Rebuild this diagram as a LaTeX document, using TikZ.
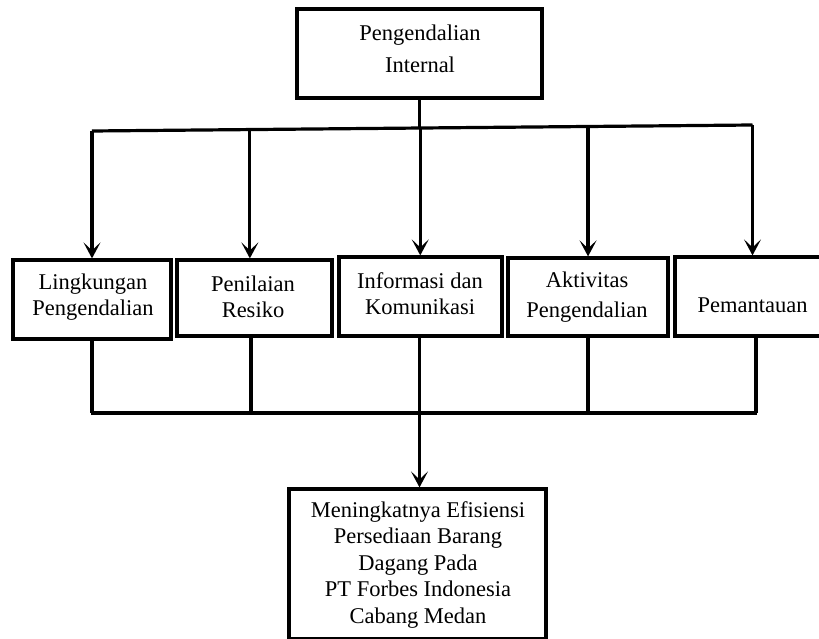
\documentclass[tikz,border=0pt]{standalone}
\usepackage{fontspec}
\setmainfont{Liberation Serif}
\usetikzlibrary{arrows.meta,calc}
\begin{document}
\begin{tikzpicture}[x=1pt,y=-1pt,line width=3.2pt,
  box/.style={draw,line width=3.2pt,inner sep=0pt},
  lbl/.style={align=center,inner sep=0pt,font=\fontsize{22.5}{26}\selectfont},
  arr/.style={-{Stealth[length=16pt,width=17pt,inset=8pt]}}]
\useasboundingbox (0,0) rectangle (819,639);
% boxes
\node[box,minimum width=245pt,minimum height=89pt] (top) at (419.5,53.5) {};
\node[box,minimum width=158pt,minimum height=79pt] (b1) at (92,299.5) {};
\node[box,minimum width=155pt,minimum height=76pt] (b2) at (254.5,298) {};
\node[box,minimum width=163pt,minimum height=79pt] (b3) at (420.5,296.5) {};
\node[box,minimum width=160pt,minimum height=78pt] (b4) at (588,297) {};
\node[box,minimum width=155pt,minimum height=79pt] (b5) at (752.5,296.5) {};
\node[box,minimum width=257pt,minimum height=150pt] (bot) at (417.5,564) {};
% labels
\node[lbl,font=\fontsize{22.5}{32}\selectfont] (ttop) at (420,49) {Pengendalian\\Internal};
\node[lbl] (t1) at (93,297.5) {Lingkungan\\Pengendalian};
\node[lbl] (t2) at (253,297) {Penilaian\\Resiko};
\node[lbl] (t3) at (420,293.5) {Informasi dan\\Komunikasi};
\node[lbl,font=\fontsize{22.5}{30}\selectfont] (t4) at (587,297) {Aktivitas\\Pengendalian};
\node[lbl] (t5) at (752.5,305) {Pemantauan};
\node[lbl,font=\fontsize{22.5}{26.5}\selectfont] (tbot) at (418,565) {Meningkatnya Efisiensi\\Persediaan Barang\\Dagang Pada\\PT Forbes Indonesia\\Cabang Medan};
% upper bus (slightly tilted as in the reference)
\coordinate (busL) at (92,131);
\coordinate (busR) at (752.5,125);
\coordinate (u2) at ($(busL)!0.239!(busR)$);
\coordinate (u3) at ($(busL)!0.497!(busR)$);
\coordinate (u4) at ($(busL)!0.751!(busR)$);
\draw (busL) -- (busR);
\draw (top.south) -- (top.south |- u3);
\draw[arr] (busL) -- (b1.north);
\draw[arr] (u2) -- (u2 |- b2.north);
\draw[arr] (u3) -- (u3 |- b3.north);
\draw[arr] (u4) -- (u4 |- b4.north);
\draw[arr] (busR) -- (b5.north);
% lower bus
\coordinate (lbus) at (0,413);
\draw ([xshift=-1.3pt]b1.south |- lbus) -- ([xshift=4.5pt]b5.south |- lbus);
\draw (b1.south) -- (b1.south |- lbus);
\draw ([xshift=-3.5pt]b2.south) -- ([xshift=-3.5pt]b2.south |- lbus);
\draw (b4.south) -- (b4.south |- lbus);
\draw ([xshift=3.5pt]b5.south) -- ([xshift=3.5pt]b5.south |- lbus);
\draw[arr] ([xshift=-1pt]b3.south) -- ([xshift=-1pt]b3.south |- bot.north);
\end{tikzpicture}
\end{document}
